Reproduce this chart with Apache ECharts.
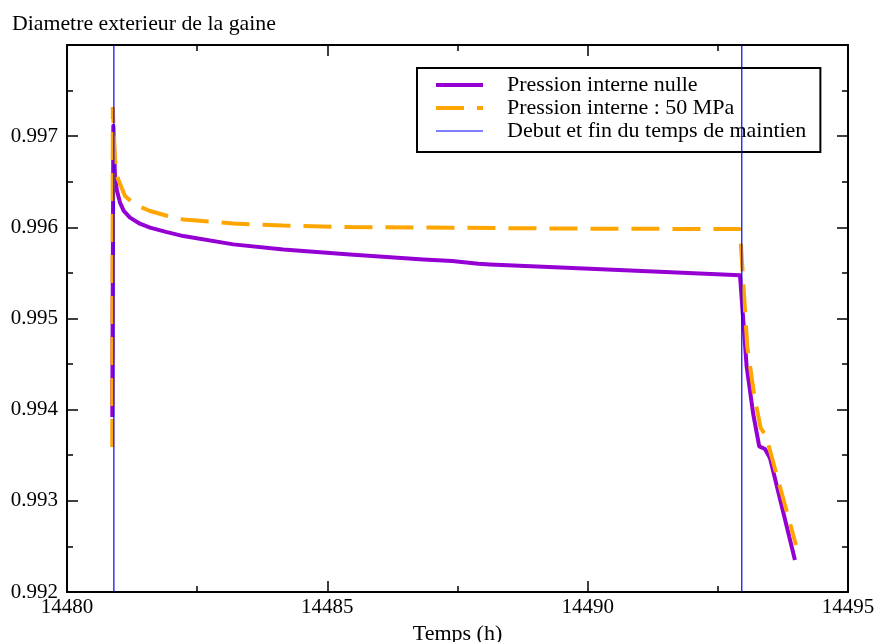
<!DOCTYPE html>
<html>
<head>
<meta charset="utf-8">
<script src="https://cdn.jsdelivr.net/npm/echarts@6/dist/echarts.min.js"></script>
<style>html,body{margin:0;padding:0;background:#fff}#c{width:877px;height:642px}</style>
</head>
<body>
<div id="c"></div>
<script>
const seriesNames = ['Pression interne nulle', 'Pression interne : 50 MPa', 'Debut et fin du temps de maintien'];
const xTicks = [14480, 14485, 14490, 14495];
const yTicks = [0.992, 0.993, 0.994, 0.995, 0.996, 0.997];

const tNulle = [14480.87, 14480.89, 14480.922, 14480.96, 14481.018, 14481.09, 14481.21, 14481.40, 14481.594, 14481.90, 14482.234, 14483.194, 14484.154, 14485.435, 14486.843, 14487.4, 14487.9, 14488.124, 14490.044, 14492.925, 14492.963, 14493.053, 14493.18, 14493.295, 14493.405, 14493.501, 14493.981];
const vNulle = [0.99392, 0.997113, 0.99655, 0.99640, 0.996271, 0.99618, 0.996107, 0.99604, 0.995997, 0.99595, 0.995904, 0.995813, 0.995758, 0.995703, 0.995648, 0.99563, 0.995600, 0.995593, 0.995546, 0.995475, 0.995473, 0.994476, 0.99395, 0.993597, 0.993568, 0.993469, 0.992352];

const t50 = [14480.87, 14480.88, 14480.922, 14480.98, 14481.114, 14481.30, 14481.594, 14481.90, 14482.234, 14483.194, 14484.154, 14485.435, 14490.044, 14492.925, 14492.963, 14493.065, 14493.20, 14493.322, 14493.424, 14494.0];
const v50 = [0.99359, 0.99732, 0.996747, 0.99653, 0.996344, 0.99625, 0.996179, 0.99613, 0.996086, 0.996042, 0.99602, 0.996003, 0.995985, 0.995981, 0.995981, 0.994696, 0.99415, 0.993799, 0.993714, 0.992516];

const tMaintien = [14480.9, 14492.96];
const vMaintienRange = [0.992, 0.998];

const font = "'Liberation Serif', 'DejaVu Serif', serif";

const maintienData = [];
tMaintien.forEach((t, i) => {
  if (i > 0) maintienData.push([t - 0.01, '-']);
  maintienData.push([t, vMaintienRange[0]]);
  maintienData.push([t, vMaintienRange[1]]);
});

const chart = echarts.init(document.getElementById('c'), null, {renderer: 'canvas'});
const axisCommon = {
  axisLine: {show: true, lineStyle: {color: '#000', width: 2}},
  axisTick: {show: true, inside: true, length: 11, lineStyle: {color: '#000', width: 1.5}},
  minorTick: {show: true, splitNumber: 2, length: 6, lineStyle: {color: '#000', width: 1.5}},
  splitLine: {show: false}
};
const legendWidths = [4, 4, 1.2];
chart.setOption({
  animation: false,
  backgroundColor: '#fff',
  title: {
    text: 'Diametre exterieur de la gaine',
    left: 7, top: 8,
    textStyle: {fontFamily: font, fontSize: 21.8, fontWeight: 'normal', color: '#000'}
  },
  legend: {
    data: seriesNames.map((n, i) => ({name: n, lineStyle: {width: legendWidths[i]}})),
    orient: 'vertical',
    left: 417, top: 68,
    itemWidth: 47, itemHeight: 8,
    itemGap: 1,
    padding: [6, 14, 10, 17],
    borderColor: '#000', borderWidth: 2,
    backgroundColor: '#fff',
    itemStyle: {opacity: 0},
    textStyle: {fontFamily: font, fontSize: 22, color: '#000', padding: [0, 0, 0, 19]},
    selectedMode: false
  },
  grid: {left: 67, right: 29, top: 45, bottom: 50, containLabel: false, outerBoundsMode: 'none'},
  xAxis: [
    Object.assign({
      type: 'value', min: 14480, max: 14495, interval: 5, position: 'bottom',
      name: 'Temps (h)', nameLocation: 'middle', nameGap: 30,
      nameTextStyle: {fontFamily: font, fontSize: 22, color: '#000'},
      axisLabel: {fontFamily: font, fontSize: 21, color: '#000', margin: 5,
        formatter: v => xTicks.includes(v) ? String(v) : ''}
    }, axisCommon),
    Object.assign({
      type: 'value', min: 14480, max: 14495, interval: 5, position: 'top',
      axisLabel: {show: false}
    }, axisCommon)
  ],
  yAxis: [
    Object.assign({
      type: 'value', min: 0.992, max: 0.998, interval: 0.001, position: 'left',
      axisLabel: {fontFamily: font, fontSize: 21, color: '#000', margin: 9,
        formatter: v => { const r = Math.round(v * 1000) / 1000; return yTicks.includes(r) ? r.toFixed(3) : ''; }}
    }, axisCommon),
    Object.assign({
      type: 'value', min: 0.992, max: 0.998, interval: 0.001, position: 'right',
      axisLabel: {show: false}
    }, axisCommon)
  ],
  series: [
    {
      name: seriesNames[0], type: 'line', xAxisIndex: 0, yAxisIndex: 0,
      data: tNulle.map((t, i) => [t, vNulle[i]]),
      symbol: 'none', smooth: false,
      lineStyle: {color: '#9400d3', width: 4, join: 'round'},
      itemStyle: {color: '#9400d3'}, z: 2
    },
    {
      name: seriesNames[1], type: 'line', xAxisIndex: 0, yAxisIndex: 0,
      data: t50.map((t, i) => [t, v50[i]]),
      symbol: 'none',
      lineStyle: {color: '#ffa500', width: 4, type: [28, 13]},
      itemStyle: {color: '#ffa500'}, z: 3
    },
    {
      name: seriesNames[2], type: 'line', xAxisIndex: 0, yAxisIndex: 0,
      data: maintienData, connectNulls: false,
      symbol: 'none',
      lineStyle: {color: '#0000ff', width: 1.2},
      itemStyle: {color: '#0000ff'}, z: 4
    }
  ]
});
</script>
</body>
</html>
